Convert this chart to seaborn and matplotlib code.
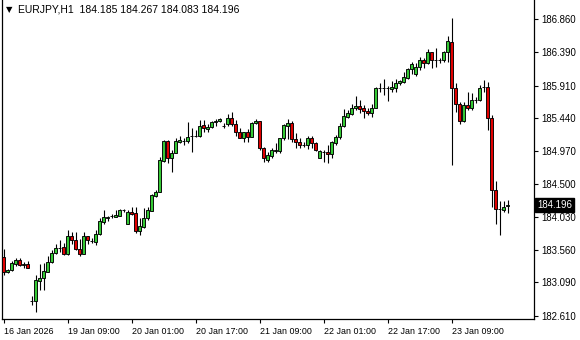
import numpy as np
import pandas as pd
import matplotlib
matplotlib.use("Agg")
import matplotlib.pyplot as plt
import seaborn as sns
from matplotlib.transforms import blended_transform_factory

sns.set_style("white")
plt.rcParams["font.family"] = ["Liberation Sans", "DejaVu Sans"]
plt.rcParams["text.color"] = "black"

symbol_title = "EURJPY,H1"

opens = [183.454, 183.240, 183.268, 183.354, 183.411, 183.345, 183.354, 182.820, 182.824, 183.111,
         183.154, 183.240, 183.383, 183.512, 183.580, 183.598, 183.497, 183.755, 183.698, 183.569,
         183.497, 183.755, 183.690, 183.669, 183.784, 183.956, 184.020, 184.040, 184.028, 184.042,
         184.125, 183.927, 184.099, 184.085, 183.827, 183.884, 184.013, 184.114, 184.328, 184.386,
         184.830, 185.116, 184.873, 184.944, 185.105, 185.110, 185.116, 185.185, 185.188, 185.188,
         185.346, 185.288, 185.317, 185.389, 185.403, 185.330, 185.360, 185.446, 185.360, 185.245,
         185.159, 185.245, 185.174, 185.374, 185.403, 185.016, 184.844, 184.901, 184.973, 184.973,
         185.159, 185.331, 185.374, 185.145, 185.102, 185.055, 185.059, 185.159, 185.088, 184.873,
         184.955, 184.959, 184.930, 185.088, 185.174, 185.331, 185.460, 185.503, 185.589, 185.618,
         185.589, 185.546, 185.518, 185.589, 185.870, 185.875, 185.878, 185.861, 185.876, 185.947,
         185.962, 186.019, 186.148, 186.076, 186.177, 186.277, 186.234, 186.391, 186.275, 186.278,
         186.277, 186.391, 186.535, 185.876, 185.647, 185.403, 185.632, 185.589, 185.700, 185.704,
         185.885, 185.890, 185.446, 184.414, 184.145, 184.128, 184.185]

highs = [183.569, 183.282, 183.397, 183.440, 183.440, 183.383, 183.397, 182.896, 183.197, 183.354,
         183.369, 183.469, 183.555, 183.641, 183.698, 183.655, 183.841, 183.813, 183.813, 183.712,
         183.813, 183.755, 183.727, 183.841, 184.013, 184.128, 184.042, 184.070, 184.128, 184.135,
         184.142, 184.128, 184.171, 184.171, 184.013, 184.156, 184.171, 184.350, 184.414, 184.887,
         185.131, 185.131, 184.987, 185.159, 185.188, 185.159, 185.389, 185.303, 185.274, 185.417,
         185.417, 185.360, 185.403, 185.432, 185.446, 185.374, 185.503, 185.532, 185.417, 185.303,
         185.250, 185.288, 185.389, 185.432, 185.410, 185.030, 184.959, 185.016, 185.088, 185.165,
         185.360, 185.432, 185.403, 185.231, 185.159, 185.102, 185.188, 185.188, 185.102, 184.987,
         184.987, 185.059, 185.116, 185.202, 185.374, 185.575, 185.561, 185.647, 185.761, 185.704,
         185.632, 185.589, 185.647, 185.890, 185.947, 186.005, 185.904, 185.976, 186.005, 185.990,
         186.105, 186.162, 186.248, 186.234, 186.320, 186.306, 186.434, 186.395, 186.449, 186.306,
         186.406, 186.621, 186.879, 185.947, 185.675, 185.675, 185.818, 185.804, 185.747, 185.919,
         185.990, 185.962, 185.489, 184.543, 184.257, 184.257, 184.267]

lows = [183.197, 183.225, 183.254, 183.326, 183.326, 183.297, 183.297, 182.767, 182.667, 182.982,
        182.982, 183.240, 183.369, 183.497, 183.526, 183.483, 183.483, 183.641, 183.555, 183.469,
        183.497, 183.641, 183.655, 183.626, 183.770, 183.927, 183.970, 184.013, 184.028, 184.035,
        184.099, 183.920, 184.056, 183.798, 183.770, 183.870, 183.985, 184.110, 184.314, 184.380,
        184.815, 184.801, 184.672, 184.940, 185.088, 185.059, 185.088, 184.959, 185.174, 185.180,
        185.245, 185.245, 185.303, 185.331, 185.389, 185.303, 185.331, 185.331, 185.188, 185.155,
        185.102, 185.102, 185.170, 185.360, 184.987, 184.815, 184.815, 184.873, 184.944, 184.944,
        185.131, 185.145, 185.102, 185.016, 185.016, 185.030, 185.002, 185.016, 184.980, 184.866,
        184.815, 184.801, 184.873, 185.059, 185.145, 185.317, 185.446, 185.489, 185.561, 185.518,
        185.446, 185.489, 185.460, 185.585, 185.818, 185.775, 185.690, 185.818, 185.818, 185.919,
        185.947, 186.005, 186.076, 186.048, 186.134, 186.162, 186.220, 186.162, 186.177, 186.234,
        186.248, 186.248, 184.772, 185.532, 185.360, 185.389, 185.561, 185.561, 185.661, 185.690,
        185.818, 185.274, 184.171, 183.927, 183.770, 184.099, 184.083]

closes = [183.240, 183.268, 183.369, 183.411, 183.340, 183.352, 183.297, 182.830, 183.125, 183.154,
          183.254, 183.383, 183.512, 183.583, 183.586, 183.497, 183.755, 183.698, 183.569, 183.497,
          183.755, 183.698, 183.684, 183.784, 183.970, 184.028, 184.030, 184.044, 184.056, 184.128,
          184.130, 184.099, 184.070, 183.827, 183.899, 184.013, 184.128, 184.343, 184.386, 184.844,
          185.116, 184.873, 184.944, 185.116, 185.125, 185.116, 185.174, 185.190, 185.190, 185.331,
          185.303, 185.317, 185.389, 185.403, 185.432, 185.335, 185.446, 185.360, 185.245, 185.159,
          185.245, 185.174, 185.374, 185.403, 185.016, 184.873, 184.916, 184.987, 184.987, 185.159,
          185.346, 185.374, 185.145, 185.102, 185.059, 185.060, 185.159, 185.088, 184.987, 184.973,
          184.960, 184.930, 185.102, 185.174, 185.331, 185.475, 185.518, 185.589, 185.618, 185.575,
          185.546, 185.518, 185.589, 185.876, 185.876, 185.880, 185.872, 185.890, 185.947, 185.976,
          186.033, 186.148, 186.220, 186.177, 186.277, 186.234, 186.391, 186.277, 186.280, 186.274,
          186.391, 186.549, 185.876, 185.647, 185.403, 185.632, 185.589, 185.704, 185.705, 185.876,
          185.890, 185.446, 184.414, 184.142, 184.140, 184.171, 184.196]

price_ticks = [182.610, 183.090, 183.560, 184.030, 184.500, 184.970, 185.440, 185.910, 186.390, 186.860]

time_tick_labels = ["16 Jan 2026", "19 Jan 09:00", "20 Jan 01:00", "20 Jan 17:00",
                    "21 Jan 09:00", "22 Jan 01:00", "22 Jan 17:00", "23 Jan 09:00"]
time_tick_times = ["2026-01-16 17:00", "2026-01-19 09:00", "2026-01-20 01:00", "2026-01-20 17:00",
                   "2026-01-21 09:00", "2026-01-22 01:00", "2026-01-22 17:00", "2026-01-23 09:00"]

# bar times: Friday evening session then Monday onward (hourly)
bar_times = list(pd.date_range("2026-01-16 17:00", periods=7, freq="h")) + \
            list(pd.date_range("2026-01-19 00:00", periods=len(opens) - 7, freq="h"))

df = pd.DataFrame({"time": bar_times, "open": opens, "high": highs, "low": lows, "close": closes})
df["pos"] = np.arange(len(df))
df["bottom"] = df[["open", "close"]].min(axis=1)
df["height"] = (df["close"] - df["open"]).abs()
df["bull"] = df["close"] >= df["open"]

GREEN = "#35c935"
RED = "#e00000"

W, H = 580, 340
fig = plt.figure(figsize=(W / 100, H / 100), dpi=100)
ax = fig.add_axes([2 / W, 21 / H, 532 / W, 319 / H])
ax.set_facecolor("white")

# wicks
ax.vlines(df["pos"], df["low"], df["high"], colors="black", linewidth=0.8, zorder=2)
# bodies
colors = [GREEN if b else RED for b in df["bull"]]
ax.bar(df["pos"], df["height"], bottom=df["bottom"], width=0.75, color=colors,
       edgecolor="black", linewidth=0.65, zorder=3)

ax.set_xlim(-0.425, 132.575)
ax.set_ylim(182.566, 187.1365)

for s in ["left", "bottom", "right"]:
    ax.spines[s].set_visible(True)
    ax.spines[s].set_color("black")
    ax.spines[s].set_linewidth(0.9)
ax.spines["top"].set_visible(False)

ax.yaxis.tick_right()
ax.set_yticks(price_ticks)
ax.set_yticklabels([f"{v:.3f}" for v in price_ticks])
ax.tick_params(axis="y", which="both", direction="out", length=3, width=0.8, pad=2,
               labelsize=6.9, colors="black", left=False, right=True)

time_index = {t: i for i, t in enumerate(df["time"])}
xt = [time_index[pd.Timestamp(t)] for t in time_tick_times]
ax.set_xticks(xt)
ax.set_xticklabels(time_tick_labels, ha="left")
ax.tick_params(axis="x", which="both", direction="out", length=3, width=0.8, pad=2.5,
               labelsize=6.4, colors="black", bottom=True)
for lbl in ax.get_xticklabels():
    lbl.set_horizontalalignment("left")

# current price label
last = df["close"].iloc[-1]
trans = blended_transform_factory(ax.transAxes, ax.transData)
ax.text(1 + 3.5 / 532, last, f"{last:.3f}", transform=trans, color="white", fontsize=6.9,
        va="center", ha="left", zorder=5, clip_on=False,
        bbox=dict(boxstyle="square,pad=0.22", fc="black", ec="black"))

# header
o, h, l, c = df.iloc[-1][["open", "high", "low", "close"]]
fig.text(5.5 / W, 1 - 10 / H, "\u25BC", fontsize=6, va="center", ha="left",
         family=["DejaVu Sans"], color="black")
fig.text(18 / W, 1 - 10 / H, f"{symbol_title}  {o:.3f} {h:.3f} {l:.3f} {c:.3f}",
         fontsize=7.5, va="center", ha="left", color="black")

fig.savefig("out.png", dpi=100)
